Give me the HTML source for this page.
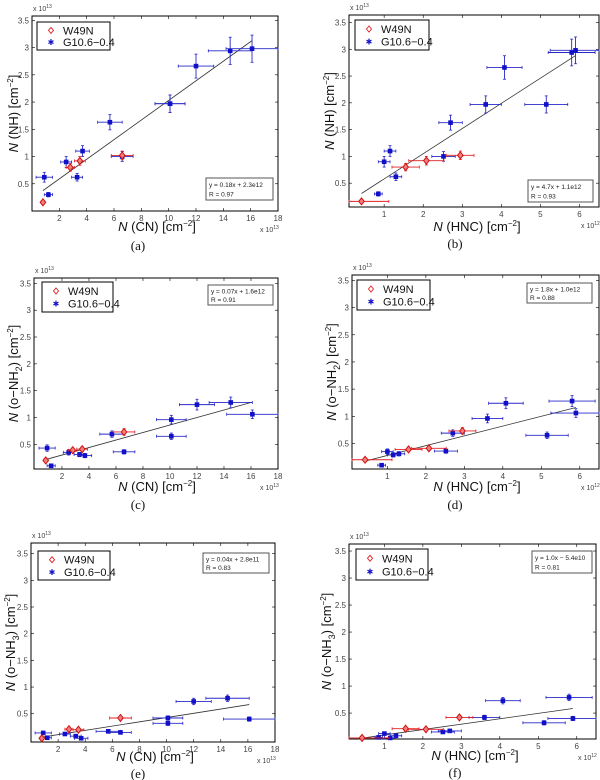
<!DOCTYPE html>
<html><head><meta charset="utf-8"><style>
html,body{margin:0;padding:0;background:#fff;}
svg{display:block;font-family:"Liberation Sans",sans-serif;}
</style></head><body>
<svg id="fig" width="600" height="780" viewBox="0 0 600 780" xmlns="http://www.w3.org/2000/svg"></svg>
<script>
// ---- data (x in units of panel multiplier, y in 1e13) ----
const g10CN   = [0.9,1.2,2.5,3.3,3.7,5.7,6.6,10.1,10.1,12.0,14.5,16.1];
const g10CNerr= [0.6,0.3,0.4,0.4,0.5,0.9,0.8,1.1,1.1,1.3,1.6,1.9];
const g10HNC  = [null,0.85,1.0,1.3,1.15,2.7,2.52,3.6,5.15,4.08,5.8,5.9];
const g10HNCerr=[null,0.1,0.15,0.15,0.15,0.3,0.3,0.4,0.55,0.45,0.6,0.65];
const g10NH   = [0.62,0.30,0.90,0.62,1.10,1.63,1.00,1.97,1.97,2.66,2.94,2.98];
const g10NHerr= [0.09,0.04,0.1,0.07,0.1,0.14,0.09,0.16,0.16,0.22,0.25,0.25];
const g10NH2  = [0.43,0.10,0.35,0.31,0.29,0.69,0.36,0.96,0.65,1.24,1.28,1.06];
const g10NH2err=[0.06,0.03,0.05,0.04,0.04,0.06,0.04,0.08,0.06,0.1,0.1,0.08];
const g10NH3  = [0.14,0.05,0.12,0.08,0.04,0.17,0.15,0.42,0.32,0.73,0.79,0.40];
const g10NH3err=[0.03,0.02,0.03,0.02,0.02,0.03,0.03,0.04,0.04,0.06,0.06,0.04];
const w49CN   = [0.8,2.8,3.5,6.6];
const w49CNerr= [0.15,0.3,0.4,0.8];
const w49HNC  = [0.42,1.55,2.08,2.95];
const w49HNCerr=[0.7,0.35,0.45,0.35];
const w49NH   = [0.16,0.80,0.92,1.02];
const w49NHerr= [0.03,0.07,0.08,0.08];
const w49NH2  = [0.20,0.39,0.41,0.73];
const w49NH2err=[0.04,0.04,0.04,0.06];
const w49NH3  = [0.04,0.21,0.20,0.42];
const w49NH3err=[0.02,0.03,0.03,0.04];
// fit slope/intercept per panel (in plotted units) and fit labels
const fitSlope = [0.18,0.47,0.07,0.18,0.04,0.10];
const fitInter = [0.23,0.11,0.16,0.10,0.028,-0.0054];
const fitText  = ["y = 0.18x + 2.3e12","y = 4.7x + 1.1e12","y = 0.07x + 1.6e12","y = 1.8x + 1.0e12","y = 0.04x + 2.8e11","y = 1.0x − 5.4e10"];
const fitR     = ["R = 0.97","R = 0.93","R = 0.91","R = 0.88","R = 0.83","R = 0.81"];
const xTicksCN = [2,4,6,8,10,12,14,16,18];
const xTicksHNC= [1,2,3,4,5,6];
const yTicks   = [0.5,1,1.5,2,2.5,3,3.5];

const NS="http://www.w3.org/2000/svg";
const svg=document.getElementById('fig');
function el(tag,attrs,parent,txt){const e=document.createElementNS(NS,tag);for(const k in attrs)e.setAttribute(k,attrs[k]);if(txt!=null)e.textContent=txt;(parent||svg).appendChild(e);return e;}

const panels=[
 {id:'a',L:32,R:278,T:16,B:211,x0:0,x1:18,y0:0,y1:3.58,xt:xTicksCN,gx:g10CN,gxe:g10CNerr,wx:w49CN,wxe:w49CNerr,gy:g10NH,gye:g10NHerr,wy:w49NH,wye:w49NHerr,xl:'CN',yl:'NH',sub:'',xm:'13',leg:[37,22,73,28],fit:[206,178,67,22],xlab:[157,231],cap:[138,250],ylx:14},
 {id:'b',L:349,R:599,T:15,B:207,x0:0.1,x1:6.5,y0:0.055,y1:3.64,xt:xTicksHNC,gx:g10HNC,gxe:g10HNCerr,wx:w49HNC,wxe:w49HNCerr,gy:g10NH,gye:g10NHerr,wy:w49NH,wye:w49NHerr,xl:'HNC',yl:'NH',sub:'',xm:'12',leg:[355,20,74,30],fit:[528,180,65,22],xlab:[477,231],cap:[455,248],ylx:330},
 {id:'c',L:34,R:278,T:278,B:469,x0:-0.07,x1:18,y0:0.04,y1:3.6,xt:xTicksCN,gx:g10CN,gxe:g10CNerr,wx:w49CN,wxe:w49CNerr,gy:g10NH2,gye:g10NH2err,wy:w49NH2,wye:w49NH2err,xl:'CN',yl:'o−NH',sub:'2',xm:'13',leg:[42,282,71,30],fit:[208,285,65,20],xlab:[157,491],cap:[138,509],ylx:14},
 {id:'d',L:352,R:599,T:275,B:469,x0:0.08,x1:6.5,y0:0.03,y1:3.6,xt:xTicksHNC,gx:g10HNC,gxe:g10HNCerr,wx:w49HNC,wxe:w49HNCerr,gy:g10NH2,gye:g10NH2err,wy:w49NH2,wye:w49NH2err,xl:'HNC',yl:'o−NH',sub:'2',xm:'12',leg:[357,280,73,30],fit:[527,283,65,20],xlab:[477,491],cap:[455,509],ylx:332},
 {id:'e',L:31,R:275,T:543,B:742,x0:0,x1:18,y0:-0.03,y1:3.7,xt:xTicksCN,gx:g10CN,gxe:g10CNerr,wx:w49CN,wxe:w49CNerr,gy:g10NH3,gye:g10NH3err,wy:w49NH3,wye:w49NH3err,xl:'CN',yl:'o−NH',sub:'3',xm:'13',leg:[38,551,72,29],fit:[203,553,66,20],xlab:[155,761],cap:[138,778],ylx:11},
 {id:'f',L:349,R:596,T:544,B:739,x0:0.08,x1:6.5,y0:0.02,y1:3.63,xt:xTicksHNC,gx:g10HNC,gxe:g10HNCerr,wx:w49HNC,wxe:w49HNCerr,gy:g10NH3,gye:g10NH3err,wy:w49NH3,wye:w49NH3err,xl:'HNC',yl:'o−NH',sub:'3',xm:'12',leg:[356,549,72,31],fit:[532,551,60,22],xlab:[475,760],cap:[455,777],ylx:327}
];

panels.forEach((p,pi)=>{
  const g=el('g',{});
  
  
  const sx=v=>p.L+(v-p.x0)/(p.x1-p.x0)*(p.R-p.L);
  const sy=v=>p.B-(v-p.y0)/(p.y1-p.y0)*(p.B-p.T);
  const box=el('rect',{x:p.L,y:p.T,width:p.R-p.L,height:p.B-p.T,fill:'none',stroke:'#000','stroke-width':1},g);
  
  
  p.xt.forEach(t=>{const x=sx(t); if(x>p.R+0.5) return;
    el('line',{x1:x,y1:p.B,x2:x,y2:p.B-3,stroke:'#000','stroke-width':0.6},g);
    el('line',{x1:x,y1:p.T,x2:x,y2:p.T+3,stroke:'#000','stroke-width':0.6},g);
    const tl=el('text',{x:x,y:p.B+10,'font-size':8,'text-anchor':'middle',fill:'#444'},g,String(t));
    
    
  });
  yTicks.forEach(t=>{const y=sy(t);
    el('line',{x1:p.L,y1:y,x2:p.L+3,y2:y,stroke:'#000','stroke-width':0.6},g);
    el('line',{x1:p.R,y1:y,x2:p.R-3,y2:y,stroke:'#000','stroke-width':0.6},g);
    const tl=el('text',{x:p.L-3,y:y+3,'font-size':8,'text-anchor':'end',fill:'#444'},g,String(t));
    
    
  });
  const m1=el('text',{x:p.L+1,y:p.T-5,'font-size':7,fill:'#444'},g,'x 10');
  
  
  el('tspan',{dy:-3,'font-size':5},m1,'13');
  const m2=el('text',{x:p.R-18,y:p.B+21,'font-size':7,fill:'#444'},g,'x 10');
  
  
  el('tspan',{dy:-3,'font-size':5},m2,p.xm);
  const xs=p.gx.filter(v=>v!=null).concat(p.wx);
  const xa=Math.min(...xs), xb=Math.max(...xs);
  const fl=el('line',{x1:sx(xa),y1:sy(fitSlope[pi]*xa+fitInter[pi]),x2:sx(xb),y2:sy(fitSlope[pi]*xb+fitInter[pi]),stroke:'#333','stroke-width':0.8},g);
  
  
  function series(X,Xe,Y,Ye,col,isW){
    for(let i=0;i<X.length;i++){ if(X[i]==null) continue;
      const cx=sx(X[i]), cy=sy(Y[i]);
      const xa=Math.max(p.L,sx(X[i]-Xe[i])), xb=Math.min(p.R,sx(X[i]+Xe[i]));
      el('line',{x1:xa,y1:cy,x2:xb,y2:cy,stroke:col,'stroke-width':0.9},g);
      el('line',{x1:xa,y1:cy-1.5,x2:xa,y2:cy+1.5,stroke:col,'stroke-width':0.8},g);
      el('line',{x1:xb,y1:cy-1.5,x2:xb,y2:cy+1.5,stroke:col,'stroke-width':0.8},g);
      const ya=sy(Y[i]-Ye[i]), yb=sy(Y[i]+Ye[i]);
      el('line',{x1:cx,y1:ya,x2:cx,y2:yb,stroke:col,'stroke-width':0.9},g);
      el('line',{x1:cx-1.5,y1:ya,x2:cx+1.5,y2:ya,stroke:col,'stroke-width':0.8},g);
      el('line',{x1:cx-1.5,y1:yb,x2:cx+1.5,y2:yb,stroke:col,'stroke-width':0.8},g);
      let mk;
      if(isW){mk=el('polygon',{points:`${cx},${cy-3.5} ${cx+2.8},${cy} ${cx},${cy+3.5} ${cx-2.8},${cy}`,fill:'#f08080',stroke:'#d01010','stroke-width':1},g);
        }
      else{mk=el('rect',{x:cx-2.3,y:cy-2.3,width:4.6,height:4.6,fill:'#1010c8'},g);
        }
      
    }
  }
  series(p.gx,p.gxe,p.gy,p.gye,'#2828c8',false);
  series(p.wx,p.wxe,p.wy,p.wye,'#e02020',true);
  const lg=el('g',{},g);
  
  
  const [lx,ly,lw,lh]=p.leg;
  el('rect',{x:lx,y:ly,width:lw,height:lh,fill:'#fff',stroke:'#000','stroke-width':1},lg);
  const r1=ly+lh*0.3, r2=ly+lh*0.72;
  el('polygon',{points:`${lx+14},${r1-3} ${lx+16.5},${r1} ${lx+14},${r1+3} ${lx+11.5},${r1}`,fill:'#fff',stroke:'#e02020','stroke-width':0.9},lg);
  const e1=el('text',{x:lx+26,y:r1+4,'font-size':11,fill:'#111'},lg,'W49N');
  
  
  el('text',{x:lx+14,y:r2+3,'font-size':8,'text-anchor':'middle',fill:'#1010c8'},lg,'✱');
  const e2=el('text',{x:lx+26,y:r2+4,'font-size':11,fill:'#111'},lg,'G10.6−0.4');
  
  
  const fb=el('g',{},g);
  
  
  const [fx,fy,fw,fh]=p.fit;
  el('rect',{x:fx,y:fy,width:fw,height:fh,fill:'#fff',stroke:'#555','stroke-width':1},fb);
  el('text',{x:fx+3,y:fy+fh*0.42,'font-size':6.5,fill:'#222'},fb,fitText[pi]);
  el('text',{x:fx+3,y:fy+fh*0.85,'font-size':6.5,fill:'#222'},fb,fitR[pi]);
  const xlab=el('text',{x:p.xlab[0],y:p.xlab[1],'font-size':13,'text-anchor':'middle',fill:'#111'},g);
  
  
  el('tspan',{'font-style':'italic'},xlab,'N');
  el('tspan',{},xlab,' ('+p.xl+') [cm');
  el('tspan',{dy:-5,'font-size':8},xlab,'−2');
  el('tspan',{dy:5},xlab,']');
  const cy=(p.T+p.B)/2;
  const ylab=el('text',{x:0,y:0,'font-size':13,'text-anchor':'middle',fill:'#111',transform:`translate(${p.ylx+4},${cy}) rotate(-90)`},g);
  
  
  el('tspan',{'font-style':'italic'},ylab,'N');
  el('tspan',{},ylab,' ('+p.yl);
  if(p.sub){el('tspan',{dy:4,'font-size':9},ylab,p.sub);el('tspan',{dy:-4},ylab,') [cm');}
  else el('tspan',{},ylab,') [cm');
  el('tspan',{dy:-5,'font-size':8},ylab,'−2');
  el('tspan',{dy:5},ylab,']');
  const cap=el('text',{x:p.cap[0],y:p.cap[1],'font-size':13,'text-anchor':'middle','font-family':'Liberation Serif, serif',fill:'#111'},g,'('+p.id+')');
  
  
});
</script>
</body></html>
